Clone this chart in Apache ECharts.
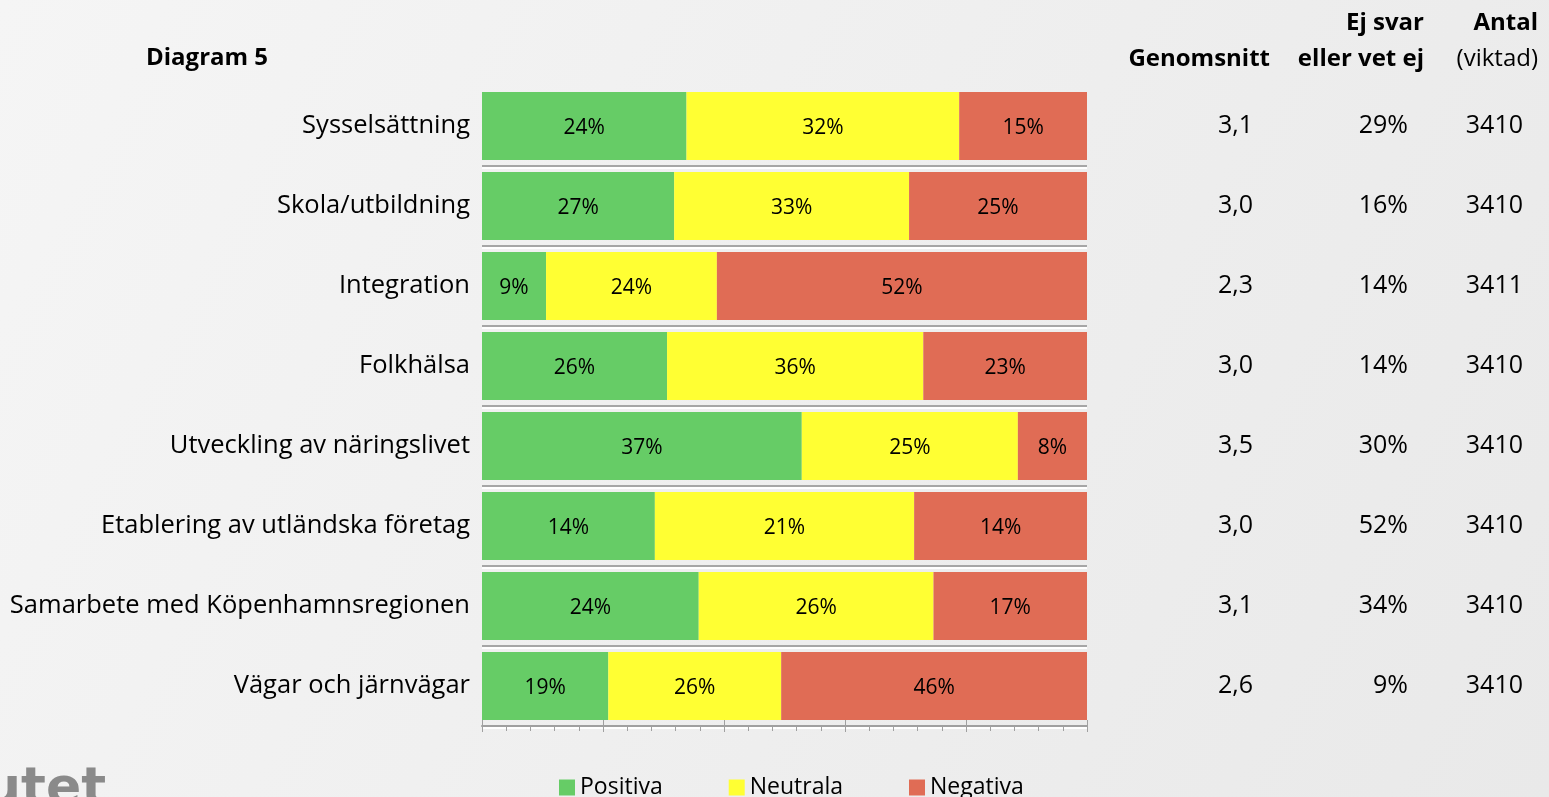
<!DOCTYPE html>
<html>
<head>
<meta charset="utf-8">
<script src="https://cdn.jsdelivr.net/npm/echarts@6/dist/echarts.min.js"></script>
<style>
html,body{margin:0;padding:0;width:1549px;height:797px;overflow:hidden;}
#c{width:1549px;height:797px;}
</style>
</head>
<body>
<div id="c"></div>
<script>
var categories = ['Sysselsättning','Skola/utbildning','Integration','Folkhälsa','Utveckling av näringslivet','Etablering av utländska företag','Samarbete med Köpenhamnsregionen','Vägar och järnvägar'];
var positiva = [24,27,9,26,37,14,24,19];
var neutrala = [32,33,24,36,25,21,26,26];
var negativa = [15,25,52,23,8,14,17,46];
var genomsnitt = [3.1,3.0,2.3,3.0,3.5,3.0,3.1,2.6];
var ejSvar = [29,16,14,14,30,52,34,9];
var antal = [3410,3410,3411,3410,3410,3410,3410,3410];
var seriesNames = ['Positiva','Neutrala','Negativa'];
var xTicks = [0,20,40,60,80,100];

var FONT = 'Open Sans';
var chart = echarts.init(document.getElementById('c'));
var raw = [positiva, neutrala, negativa];
var colors = ['#66cc66','#ffff33','#e06c55'];
function share(arr, i){ var s = positiva[i]+neutrala[i]+negativa[i]; return arr[i]/s*100; }

var series = raw.map(function(arr, k){
  return {
    name: seriesNames[k], type:'bar', stack:'all', barCategoryGap:'15%',
    itemStyle:{color:colors[k]},
    label:{show:true, position:'inside', offset:[0,2], color:'#000', fontFamily:FONT, fontSize:21,
      formatter:function(p){ return arr[p.dataIndex] + '%'; }},
    data: arr.map(function(v,i){ return share(arr,i); })
  };
});

function colAxis(vals, fmt, offset){
  return {
    type:'category', data:categories, inverse:true, position:'right', offset:offset,
    axisLine:{show:false}, axisTick:{show:false}, splitLine:{show:false},
    axisLabel:{margin:0, align:'right', color:'#000', fontFamily:FONT, fontSize:25, padding:[0,0,5,0],
      formatter:function(v, i){ return fmt(vals[i]); }}
  };
}

chart.setOption({
  backgroundColor: new echarts.graphic.LinearGradient(0,0,1,1,[{offset:0,color:'#f5f5f5'},{offset:1,color:'#e9e9e9'}]),
  animation:false,
  grid:{left:482, right:462, top:86, bottom:71, containLabel:false},
  legend:{data:seriesNames, left:554, top:771, itemWidth:16, itemHeight:16, itemGap:66, icon:'rect',
    textStyle:{fontFamily:FONT, fontSize:23, color:'#000'}},
  xAxis:[{
    type:'value', min:xTicks[0], max:xTicks[xTicks.length-1], interval:20,
    axisLine:{show:true, lineStyle:{color:'#a0a0a0', width:2}},
    axisTick:{show:true, length:6, lineStyle:{color:'#a0a0a0'}},
    minorTick:{show:true, splitNumber:5, length:5, lineStyle:{color:'#a0a0a0'}},
    axisLabel:{show:false}, splitLine:{show:false}
  },{
    type:'value', min:xTicks[0], max:xTicks[xTicks.length-1], interval:20, position:'bottom',
    axisLine:{show:false}, axisTick:{show:true, inside:true, length:6, lineStyle:{color:'#a0a0a0'}},
    axisLabel:{show:false}, splitLine:{show:false}
  }],
  yAxis:[{
    type:'category', data:categories, inverse:true,
    axisLine:{show:false}, axisTick:{show:false},
    axisLabel:{margin:12, color:'#000', fontFamily:FONT, fontSize:25.5, padding:[0,0,6,0]},
    splitLine:{show:true, interval:function(i){ return i!==0; },
      lineStyle:{color:'#a6a6a6', width:2, shadowColor:'#ffffff', shadowOffsetY:2, shadowBlur:0}}
  },
    colAxis(genomsnitt, function(v){ return v.toFixed(1).replace('.',','); }, 166),
    colAxis(ejSvar, function(v){ return v + '%'; }, 321),
    colAxis(antal, function(v){ return String(v); }, 436)
  ],
  graphic:[
    {type:'text', x:146, y:58, style:{text:'Diagram 5', font:'bold 24px "Open Sans"', fill:'#000', align:'left', verticalAlign:'middle'}},
    {type:'text', x:1270, y:59, style:{text:'Genomsnitt', font:'bold 24px "Open Sans"', fill:'#000', align:'right', verticalAlign:'middle'}},
    {type:'text', x:1424, y:23, style:{text:'Ej svar', font:'bold 24px "Open Sans"', fill:'#000', align:'right', verticalAlign:'middle'}},
    {type:'text', x:1424, y:59, style:{text:'eller vet ej', font:'bold 24px "Open Sans"', fill:'#000', align:'right', verticalAlign:'middle'}},
    {type:'text', x:1538, y:23, style:{text:'Antal', font:'bold 24px "Open Sans"', fill:'#000', align:'right', verticalAlign:'middle'}},
    {type:'text', x:1538, y:59, style:{text:'(viktad)', font:'24px "Open Sans"', fill:'#000', align:'right', verticalAlign:'middle'}},
    {type:'text', x:106, y:790, style:{text:'utet', font:'bold 52px "DejaVu Sans"', fill:'#8a8a8a', align:'right', verticalAlign:'middle'}}
  ],
  series: series
});
</script>
</body>
</html>
